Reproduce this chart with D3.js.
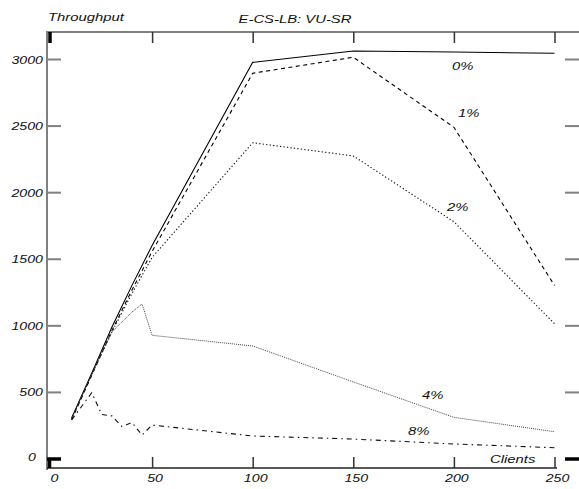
<!DOCTYPE html>
<html>
<head>
<meta charset="utf-8">
<script src="https://cdn.jsdelivr.net/npm/d3@7"></script>
<style>
  body { margin: 0; background: #fff; }
  text { font-family: "Liberation Sans", Arial, sans-serif; font-style: italic; fill: #111; }
</style>
</head>
<body>
<div id="chart"></div>
<script>
// clients on x, throughput on y
var clientsMain = [10, 20, 30, 40, 50, 100, 150, 200, 250];
var clients4 = [10, 20, 30, 40, 45, 50, 100, 150, 200, 250];
var clients8 = [10, 20, 25, 30, 35, 40, 45, 50, 100, 150, 200, 250];

var loss0 = [304, 640, 985, 1300, 1600, 2975, 3060, 3052, 3043];
var loss1 = [290, 625, 960, 1265, 1555, 2893, 3013, 2487, 1300];
var loss2 = [298, 630, 950, 1240, 1510, 2371, 2272, 1778, 1012];
var loss4 = [300, 635, 950, 1100, 1160, 925, 845, 575, 309, 201];
var loss8 = [290, 494, 330, 320, 240, 270, 176, 251, 169, 146, 109, 81];

var xTicks = [0, 50, 100, 150, 200, 250];
var yTicks = [0, 500, 1000, 1500, 2000, 2500, 3000];

var W = 579, H = 489;
var frame = {left: 47, top: 32, bottom: 468, right: 565};

var x = d3.scaleLinear().domain([0, 250]).range([51.5, 554.5]);
var y = d3.scaleLinear().domain([0, 3000]).range([458.5, 59]);

var svg = d3.select("#chart").append("svg")
    .attr("width", W)
    .attr("height", H);

// stretched italic text, like the original plot
function label(px, py, str, size, anchor) {
  return svg.append("text")
    .attr("transform", "translate(" + px + "," + py + ") scale(1.35,1)")
    .attr("font-size", size)
    .attr("text-anchor", anchor || "start")
    .text(str);
}

// frame lines
svg.append("line").attr("x1", frame.left).attr("x2", W).attr("y1", frame.top).attr("y2", frame.top)
    .attr("stroke", "#808080").attr("stroke-width", 2);
svg.append("line").attr("x1", frame.left).attr("x2", frame.left).attr("y1", frame.top - 1).attr("y2", frame.bottom + 2)
    .attr("stroke", "#808080").attr("stroke-width", 2);
svg.append("line").attr("x1", frame.left).attr("x2", 557).attr("y1", frame.bottom).attr("y2", frame.bottom)
    .attr("stroke", "#222").attr("stroke-width", 1.5);

// axes
var topAxis = svg.append("g")
    .attr("transform", "translate(0," + frame.top + ")")
    .call(d3.axisTop(x).tickValues(xTicks).tickSize(-11).tickFormat(""));
var bottomAxis = svg.append("g")
    .attr("transform", "translate(0," + frame.bottom + ")")
    .call(d3.axisBottom(x).tickValues(xTicks).tickSize(-11).tickFormat(""));
var leftAxis = svg.append("g")
    .attr("transform", "translate(" + frame.left + ",0)")
    .call(d3.axisLeft(y).tickValues(yTicks).tickSize(-14).tickFormat(""));
var rightAxis = svg.append("g")
    .attr("transform", "translate(" + frame.right + ",0)")
    .call(d3.axisRight(y).tickValues(yTicks).tickSize(14).tickFormat(""));

svg.selectAll(".domain").remove();
topAxis.selectAll(".tick line").attr("stroke", "#333").attr("stroke-width", 1.5);
bottomAxis.selectAll(".tick line").attr("stroke", "#333").attr("stroke-width", 1.5);
leftAxis.selectAll(".tick line").attr("stroke", "#808080").attr("stroke-width", 2);
rightAxis.selectAll(".tick line").attr("stroke", "#808080").attr("stroke-width", 2);

// zero ticks are heavier
[topAxis, bottomAxis, leftAxis, rightAxis].forEach(function(a) {
  a.selectAll(".tick").filter(function(d) { return d === 0; })
    .select("line").attr("stroke", "#000").attr("stroke-width", 3.5);
});
topAxis.selectAll(".tick").filter(function(d) { return d === 0; }).attr("transform", "translate(50,0)");
bottomAxis.selectAll(".tick").filter(function(d) { return d === 0; }).attr("transform", "translate(49.5,0)")
    .select("line").attr("y2", -10);

// tick labels
xTicks.forEach(function(t) {
  label(x(t) + 3, 482, t, 10.5, "middle");
});
yTicks.forEach(function(t) {
  if (t === 0) label(36, y(t) + 2, t, 10.5, "end");
  else label(43, y(t) + 4.5, t, 10.5, "end");
});

// titles
label(48, 20.5, "Throughput", 11);
label(295, 22.5, "E-CS-LB: VU-SR", 11, "middle");
label(490, 462.5, "Clients", 11);

// series
var line = d3.line()
    .x(function(d) { return x(d[0]); })
    .y(function(d) { return y(d[1]); });

var series = [
  {xs: clientsMain, ys: loss0, dash: null, color: "#000", w: 1.1},
  {xs: clientsMain, ys: loss1, dash: "4,3.5", color: "#000", w: 1.1},
  {xs: clientsMain, ys: loss2, dash: "1.3,2.2", color: "#111", w: 1.1},
  {xs: clients4, ys: loss4, dash: "1,1", color: "#444", w: 1},
  {xs: clients8, ys: loss8, dash: "5,4,1.5,4", color: "#111", w: 1.1}
];

svg.selectAll(".series")
    .data(series)
    .enter().append("path")
    .attr("class", "series")
    .attr("fill", "none")
    .attr("stroke", function(d) { return d.color; })
    .attr("stroke-width", function(d) { return d.w; })
    .attr("stroke-dasharray", function(d) { return d.dash; })
    .attr("d", function(d) { return line(d.xs.map(function(c, i) { return [c, d.ys[i]]; })); });

// series labels
label(452, 70, "0%", 11);
label(458, 116.5, "1%", 11);
label(447, 211, "2%", 11);
label(422, 399, "4%", 11);
label(408, 435, "8%", 11);
</script>
</body>
</html>
